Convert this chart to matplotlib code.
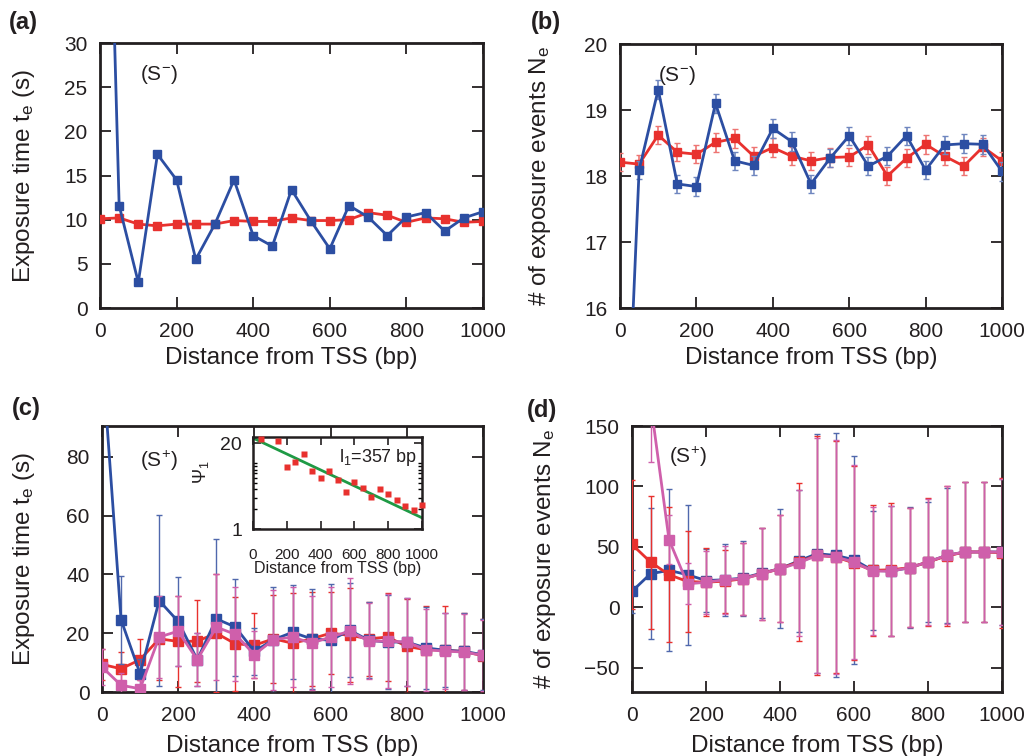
import matplotlib
matplotlib.use("Agg")
import matplotlib.pyplot as plt
import numpy as np

plt.rcParams['font.family'] = ['Liberation Sans', 'DejaVu Sans']
plt.rcParams['mathtext.default'] = 'regular'
plt.rcParams['mathtext.fontset'] = 'custom'
plt.rcParams['mathtext.rm'] = 'Liberation Sans'

# ---------------- data ----------------
dist = [0, 50, 100, 150, 200, 250, 300, 350, 400, 450, 500, 550, 600, 650,
        700, 750, 800, 850, 900, 950, 1000]

# (a) exposure time, S-
a_blue = [90, 11.6, 2.9, 17.4, 14.5, 5.5, 9.5, 14.5, 8.2, 7.0, 13.4, 9.9, 6.7,
          11.6, 10.3, 8.2, 10.3, 10.8, 8.7, 10.2, 10.9]
a_blue_err = [0.3] * 21
a_red = [10.1, 10.2, 9.5, 9.3, 9.5, 9.5, 9.5, 9.9, 9.8, 9.8, 10.2, 9.9, 9.9,
         10.0, 10.8, 10.5, 9.7, 10.2, 10.1, 9.7, 9.8]
a_red_err = [0.3] * 21

# (b) number of exposure events, S-
b_blue = [11.3, 18.09, 19.31, 17.88, 17.84, 19.10, 18.23, 18.16, 18.72, 18.52,
          17.88, 18.27, 18.61, 18.15, 18.30, 18.61, 18.09, 18.47, 18.49, 18.48,
          18.07]
b_blue_err = [0.14] * 21
b_red = [18.21, 18.18, 18.62, 18.36, 18.33, 18.51, 18.57, 18.30, 18.43, 18.30,
         18.23, 18.28, 18.29, 18.47, 18.00, 18.27, 18.48, 18.30, 18.15, 18.44,
         18.23]
b_red_err = [0.14] * 21

# (c) exposure time, S+
c_blue = [115, 24.6, 6.2, 31.1, 24.0, 11.0, 24.9, 22.1, 13.8, 17.8, 20.3, 18.1,
          17.6, 21.0, 17.6, 17.0, 17.0, 15.0, 14.2, 13.8, 12.7]
c_blue_err = [20, 15, 5, 29, 15, 9, 27, 16.5, 8, 18, 16, 17, 19, 16, 13, 16,
              15, 14, 12.6, 13, 12]
c_red = [9.4, 7.9, 11.0, 18.1, 17.2, 17.3, 20.0, 16.4, 15.9, 18.1, 16.6, 18.1,
         20.0, 19.3, 18.1, 18.7, 15.5, 14.4, 14.2, 13.8, 12.3]
c_red_err = [5.3, 5.7, 7, 14, 15.6, 14, 20, 16, 11, 15, 17, 16, 14, 16, 12.5,
             15, 16, 15, 15, 13, 12.6]
c_mag = [8.5, 2.3, 1.1, 18.7, 20.7, 11.0, 22.1, 19.6, 12.7, 17.8, 18.7, 16.6,
         18.7, 20.7, 17.3, 17.3, 17.0, 14.4, 13.9, 13.6, 12.5]
c_mag_err = [6, 4, 3, 14, 12, 9, 18, 16, 8, 17, 17, 16, 17, 18, 13, 16, 15, 14,
             13, 13, 12]

# (c) inset: Psi_1 vs distance, with exponential fit (l1 = 357 bp)
ins_x = [50, 150, 200, 250, 300, 350, 400, 450, 500, 550, 600, 650, 700, 750,
         800, 850, 900, 950, 1000]
ins_psi = [23.3, 22.0, 8.76, 10.4, 13.8, 7.6, 5.95, 7.7, 5.56, 3.7, 5.18, 4.2,
           3.07, 4.06, 3.44, 2.76, 2.26, 1.97, 2.31]
fit_x = [0, 1000]
fit_psi = [24.1, 1.48]

# (d) number of exposure events, S+
d_red = [52, 37.5, 27, 21.4, 20.8, 21.7, 23.6, 27.8, 32, 37.5, 43, 41.7, 36.7,
         30.6, 31.1, 32.8, 37.5, 42.5, 45.8, 45.8, 45.3]
d_red_err = [53, 55, 56, 42, 28, 26, 30, 38, 44, 65, 99, 96, 80, 54, 55, 49, 53,
             58, 58, 58, 62]
d_blue = [13.3, 27.8, 30.6, 27, 22.2, 22.8, 24.2, 28.3, 32, 38.3, 44.4, 43,
          39.4, 30.6, 30, 32.8, 37.5, 43, 45.8, 45.8, 45.8]
d_blue_err = [18, 54, 67, 58, 26, 30, 31, 37, 49, 59, 99, 101, 86, 49, 54, 50,
              50, 56, 58, 58, 60]
d_mag = [250, 170, 56, 19.4, 20.8, 22.8, 23.6, 27.8, 32, 36.7, 43, 41.7, 37.5,
         30, 30, 32.8, 37.5, 43, 45.8, 45.8, 45.8]
d_mag_err = [50, 50, 20, 17, 26, 28, 30, 38, 44, 60, 97, 97, 80, 53, 54, 49,
             52, 57, 58, 58, 60]

xticks = [0, 200, 400, 600, 800, 1000]

RED = '#e8312e'
BLUE = '#2c4ea2'
MAG = '#cf5fab'
GREEN = '#1f9a45'
INK = '#231f20'

W, H = 1030, 756
fig = plt.figure(figsize=(W / 100, H / 100), dpi=100)


def ax_px(l, r, t, b):
    return fig.add_axes([l / W, 1 - b / H, (r - l) / W, (b - t) / H])


def style(ax, ylim, yticks):
    ax.set_xlim(0, 1000)
    ax.set_ylim(*ylim)
    ax.set_xticks(xticks)
    ax.set_yticks(yticks)
    ax.tick_params(direction='in', length=8, width=1.3, top=True, right=True,
                   labelsize=15, colors=INK)
    ax.tick_params(axis='x', pad=10)
    ax.tick_params(axis='y', pad=9)
    for s in ax.spines.values():
        s.set_linewidth(2.0)
        s.set_color(INK)
    ax.set_xlabel('Distance from TSS (bp)', fontsize=17.5, color=INK)


# ---------------- (a) ----------------
axa = ax_px(100, 483, 43, 308)
style(axa, (0, 30), [0, 5, 10, 15, 20, 25, 30])
axa.errorbar(dist, a_red, yerr=a_red_err, color=RED, marker='s', ms=5.5, lw=2,
             ecolor=INK, elinewidth=1, capsize=2, zorder=3)
axa.errorbar(dist, a_blue, yerr=a_blue_err, color=BLUE, marker='s', ms=5.5,
             lw=2, ecolor=INK, elinewidth=1, capsize=2, zorder=4)
axa.set_ylabel('Exposure time t$_e$ (s)', fontsize=17.5, color=INK)
axa.yaxis.set_label_coords(-0.164, 0.5)
axa.xaxis.set_label_coords(0.5, -0.148)
axa.text(0.105, 0.88, '(S$^{-}$)', transform=axa.transAxes, fontsize=15,
         ha='left', va='center', color=INK)

# ---------------- (b) ----------------
axb = ax_px(620, 1002, 44, 308)
style(axb, (16, 20), [16, 17, 18, 19, 20])
axb.errorbar(dist, b_red, yerr=b_red_err, color=RED, marker='s', ms=5.5, lw=2,
             ecolor='#ee7472', elinewidth=1.2, capsize=2, zorder=3)
axb.errorbar(dist, b_blue, yerr=b_blue_err, color=BLUE, marker='s', ms=5.5,
             lw=2, ecolor='#6f86bf', elinewidth=1.2, capsize=2, zorder=4)
axb.set_ylabel('# of exposure events N$_e$', fontsize=17.5, color=INK)
axb.yaxis.set_label_coords(-0.175, 0.5)
axb.xaxis.set_label_coords(0.5, -0.148)
axb.text(0.1, 0.88, '(S$^{-}$)', transform=axb.transAxes, fontsize=15,
         ha='left', va='center', color=INK)

# ---------------- (c) ----------------
axc = ax_px(102, 483, 426, 692)
style(axc, (0, 90.5), [0, 20, 40, 60, 80])
axc.errorbar(dist, c_red, yerr=c_red_err, color=RED, marker='s', ms=7, lw=2,
             ecolor=RED, elinewidth=1, capsize=2, zorder=3)
axc.errorbar(dist, c_blue, yerr=c_blue_err, color=BLUE, marker='s', ms=7, lw=2,
             ecolor='#5068ad', elinewidth=1, capsize=2, zorder=4)
axc.errorbar(dist, c_mag, yerr=c_mag_err, color=MAG, marker='s', ms=7, lw=2,
             ecolor=MAG, elinewidth=1, capsize=2, zorder=5)
axc.set_ylabel('Exposure time t$_e$ (s)', fontsize=17.5, color=INK)
axc.yaxis.set_label_coords(-0.171, 0.5)
axc.xaxis.set_label_coords(0.5, -0.16)
axc.text(0.1, 0.87, '(S$^{+}$)', transform=axc.transAxes, fontsize=15,
         ha='left', va='center', color=INK)

# inset
axi = ax_px(253, 422, 437, 529)
axi.set_yscale('log')
axi.set_xlim(0, 1000)
axi.set_ylim(1, 25)
axi.plot(fit_x, fit_psi, color=GREEN, lw=2, zorder=2)
axi.plot(ins_x, ins_psi, ls='none', marker='s', ms=4.5, color=RED, mec='none',
         zorder=3, clip_on=False)
axi.set_xticks(xticks)
axi.set_yticks([1, 20])
axi.set_yticklabels(['1', '20'])
axi.set_yticks([2, 3, 4, 5, 6, 7, 8, 9, 10], minor=True)
axi.yaxis.set_minor_formatter(matplotlib.ticker.NullFormatter())
axi.tick_params(direction='in', length=6, width=1.2, top=True, right=True,
                colors=INK)
axi.tick_params(axis='y', which='minor', direction='in', length=3, width=1,
                right=True)
axi.tick_params(axis='x', labelsize=11, pad=14)
axi.tick_params(axis='y', labelsize=14, pad=8)
for s in axi.spines.values():
    s.set_linewidth(1.8)
    s.set_color(INK)
axi.set_xlabel('Distance from TSS (bp)', fontsize=11.5, color=INK)
axi.xaxis.set_label_coords(0.5, -0.35)
axi.set_ylabel('Ψ$_1$', fontsize=13, color=INK)
axi.yaxis.set_label_coords(-0.25, 0.62)
axi.text(0.97, 0.78, 'l$_1$=357 bp', transform=axi.transAxes, fontsize=13,
         ha='right', va='center', color=INK)

# ---------------- (d) ----------------
axd = ax_px(632, 1002, 426, 692)
style(axd, (-70, 150), [-50, 0, 50, 100, 150])
axd.errorbar(dist, d_blue, yerr=d_blue_err, color=BLUE, marker='s', ms=7, lw=2,
             ecolor='#5068ad', elinewidth=1, capsize=2, zorder=3)
axd.errorbar(dist, d_red, yerr=d_red_err, color=RED, marker='s', ms=7, lw=2,
             ecolor=RED, elinewidth=1, capsize=2, zorder=4)
axd.errorbar(dist, d_mag, yerr=d_mag_err, color=MAG, marker='s', ms=7, lw=2,
             ecolor=MAG, elinewidth=1, capsize=2, zorder=5)
axd.set_ylabel('# of exposure events N$_e$', fontsize=17.5, color=INK)
axd.yaxis.set_label_coords(-0.2, 0.5)
axd.xaxis.set_label_coords(0.5, -0.16)
axd.text(0.1, 0.885, '(S$^{+}$)', transform=axd.transAxes, fontsize=15,
         ha='left', va='center', color=INK)

# panel labels
for lab, x, y in [('(a)', 23, 22), ('(b)', 546, 22), ('(c)', 26, 408),
                  ('(d)', 542, 410)]:
    fig.text(x / W, 1 - y / H, lab, fontsize=17, fontweight='bold',
             ha='center', va='center', color=INK)

fig.savefig('out.png', dpi=100)
